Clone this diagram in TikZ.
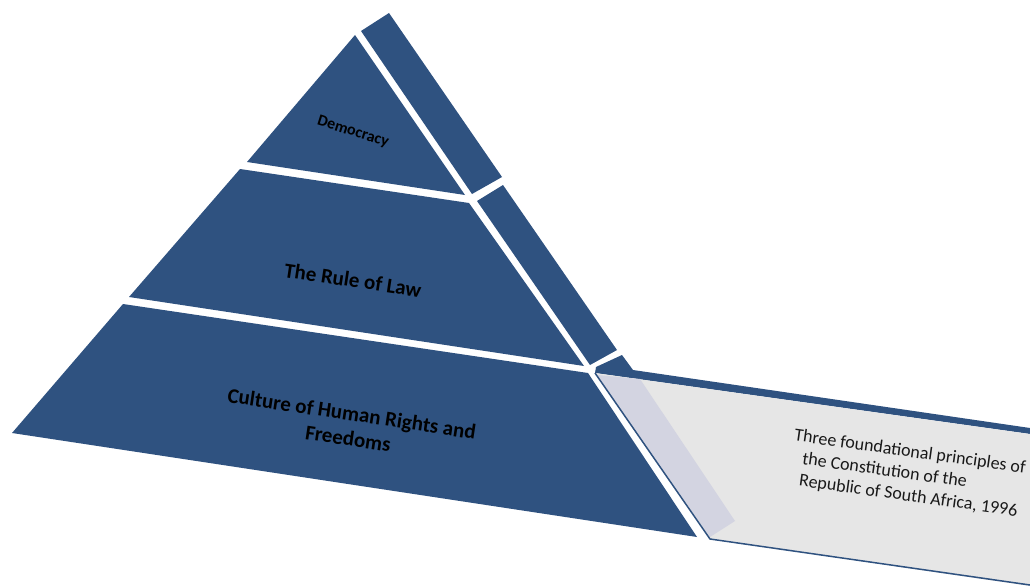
\documentclass[tikz,border=0pt]{standalone}
\usepackage{fontspec}
\setmainfont{Carlito}
\definecolor{pyrblue}{RGB}{47,82,128}
\definecolor{slabgray}{RGB}{230,230,230}
\definecolor{slablav}{RGB}{211,212,225}
\definecolor{slabtext}{RGB}{25,25,25}
\begin{document}
\begin{tikzpicture}[x=1pt,y=-1pt,
    layer/.style={fill=pyrblue},
    layertext/.style={font=\bfseries\fontsize{21}{25}\selectfont,text=black,align=center,rotate=-8.5}]
  \useasboundingbox (0,0) rectangle (1030,586);
  % front of the pyramid
  \fill [layer] (355,35) -- (465,195) -- (247,162) -- cycle;
  \fill [layer] (240,169) -- (469,203) -- (584,366) -- (129,297) -- cycle;
  \fill [layer] (123,304) -- (588,373) -- (697,537) -- (12,433) -- cycle;
  % side strips
  \fill [layer] (361,31) -- (389,13) -- (502,177) -- (472,194) -- cycle;
  \fill [layer] (477,201) -- (503,185) -- (617,350) -- (590,365) -- cycle;
  \fill [layer] (596,367) -- (622,355) -- (633,370) -- (1030,428) -- (1030,434) -- (595,373) -- cycle;
  % slab
  \fill [slabgray] (595,373) -- (1030,434) -- (1030,586) -- (710,539) -- cycle;
  \fill [slablav] (597,375) -- (640,379) -- (735,521) -- (710,537) -- cycle;
  \draw [pyrblue,line width=1.5pt] (595,373) -- (710,539) -- (1030,585);
  % labels
  \node [layertext,font=\bfseries\fontsize{16}{18}\selectfont,rotate=-9] (demo) at (353,132) {Democracy};
  \node [layertext] (law) at (353,280) {The Rule of Law};
  \node [layertext] (rights) at (350,426) {Culture of Human Rights and\\Freedoms};
  \node [font=\fontsize{18}{22}\selectfont,text=slabtext,align=left,rotate=-8] (note) at (907,474)
    {Three foundational principles of\\\hspace*{11pt}the Constitution of the\\\hspace*{11pt}Republic of South Africa, 1996};
\end{tikzpicture}
\end{document}
